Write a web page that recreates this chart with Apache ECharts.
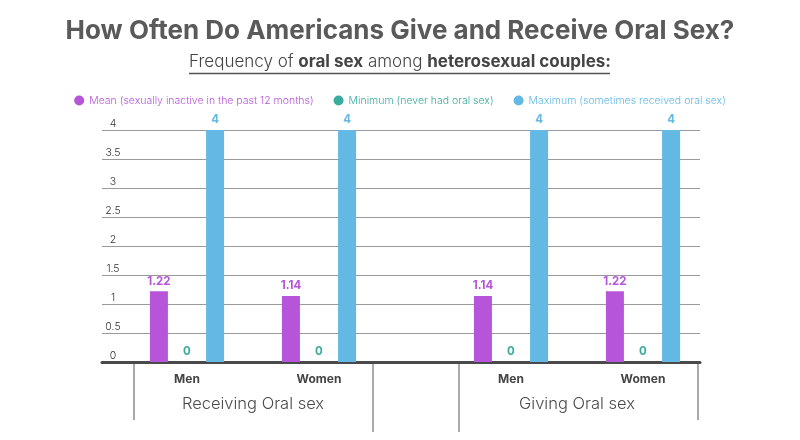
<!DOCTYPE html>
<html><head><meta charset="utf-8">
<script src="https://cdn.jsdelivr.net/npm/echarts@6/dist/echarts.min.js"></script>
<style>html,body{margin:0;padding:0;background:#fff}#c{width:800px;height:440px}</style>
</head><body><div id="c"></div>
<script>
const sexes = ['Men', 'Women'];
const groups = ['Receiving Oral sex', 'Giving Oral sex'];
const seriesNames = ['Mean (sexually inactive in the past 12 months)', 'Minimum (never had oral sex)', 'Maximum (sometimes received oral sex)'];
const meanReceiving = [1.22, 1.14];
const minReceiving = [0, 0];
const maxReceiving = [4, 4];
const meanGiving = [1.14, 1.22];
const minGiving = [0, 0];
const maxGiving = [4, 4];
const yTicks = [0, 0.5, 1, 1.5, 2, 2.5, 3, 3.5, 4];

const colors = ['#b655d9', '#3aab9f', '#63b8e4'];
const FONT = 'Inter';
const gTop = 130, gBottom = 78;

const chart = echarts.init(document.getElementById('c'));
const grids = [
  {left: 102, right: 100, top: gTop, bottom: gBottom},
  {left: 121, width: 264, top: gTop, bottom: gBottom},
  {left: 445, width: 264, top: gTop, bottom: gBottom}
];
const xAxes = [
  {gridIndex: 0, type: 'value', min: 0, max: 1, axisLabel: {show: false}, axisTick: {show: false}, splitLine: {show: false},
   axisLine: {show: true, lineStyle: {color: '#4a4a4a', width: 3}}},
];
const yAxes = [
  {gridIndex: 0, type: 'value', min: yTicks[0], max: yTicks[yTicks.length - 1], interval: 0.5,
   axisLine: {show: false}, axisTick: {show: false},
   splitLine: {lineStyle: {color: '#9a9a9a', width: 1}},
   axisLabel: {inside: true, align: 'center', verticalAlign: 'bottom', margin: 11, padding: [0, 0, 1, 0],
     color: '#333', fontSize: 10.5, fontWeight: 300, fontFamily: FONT}}
];
groups.forEach((g, i) => {
  xAxes.push({gridIndex: i + 1, type: 'category', data: sexes, axisLine: {show: false}, axisTick: {show: false},
    axisLabel: {margin: 11, color: '#444', fontSize: 12, fontWeight: 'bold', fontFamily: FONT}});
  xAxes.push({gridIndex: i + 1, type: 'category', data: [g], position: 'bottom', offset: 28, axisLine: {show: false}, axisTick: {show: false},
    axisLabel: {margin: 6, color: '#4a4a4a', fontSize: 16.5, fontWeight: 300, fontFamily: FONT}});
  yAxes.push({gridIndex: i + 1, type: 'value', min: 0, max: 4, show: false, splitLine: {show: false}});
});

function bar(name, data, idx, gi) {
  return {
    name: name, type: 'bar', data: data, xAxisIndex: gi * 2 + 1, yAxisIndex: gi + 1,
    barWidth: 18, barGap: '56%',
    itemStyle: {color: colors[idx]},
    label: {show: true, position: 'top', distance: 4, color: colors[idx], fontSize: 11.5, fontWeight: 'bold', fontFamily: FONT}
  };
}
const series = [
  bar(seriesNames[0], meanReceiving, 0, 0), bar(seriesNames[1], minReceiving, 1, 0), bar(seriesNames[2], maxReceiving, 2, 0),
  bar(seriesNames[0], meanGiving, 0, 1), bar(seriesNames[1], minGiving, 1, 1), bar(seriesNames[2], maxGiving, 2, 1)
];

const divLine = (x, y2) => ({type: 'line', shape: {x1: x, y1: 364, x2: x, y2: y2}, style: {stroke: '#555', lineWidth: 1}});

chart.setOption({
  animation: false,
  backgroundColor: '#fff',
  title: [
    {text: 'How Often Do Americans Give and Receive Oral Sex?', left: 'center', top: 13,
     textStyle: {fontFamily: FONT, fontSize: 26, fontWeight: 'bold', color: '#5a5a5a'}},
    {text: '{n|Frequency of }{b|oral sex}{n| among }{b|heterosexual couples:}', left: 'center', top: 48,
     textStyle: {fontWeight: 'normal', rich: {
       n: {fontFamily: FONT, fontSize: 17, fontWeight: 300, color: '#444'},
       b: {fontFamily: FONT, fontSize: 17, fontWeight: 'bold', color: '#444'}}}}
  ],
  legend: {
    top: 90, left: 'center', itemWidth: 10, itemHeight: 10, itemGap: 20, icon: 'circle',
    textStyle: {fontFamily: FONT, fontSize: 10.5, fontWeight: 300},
    data: seriesNames.map((n, i) => ({name: n, itemStyle: {color: colors[i]}, textStyle: {color: colors[i]}}))
  },
  grid: grids,
  xAxis: xAxes,
  yAxis: yAxes,
  series: series,
  graphic: [
    {type: 'line', shape: {x1: 189, y1: 73.5, x2: 610, y2: 73.5}, style: {stroke: '#555', lineWidth: 1.5}},
    divLine(134, 420), divLine(373, 432), divLine(459, 432), divLine(698, 420)
  ]
});
</script></body></html>
